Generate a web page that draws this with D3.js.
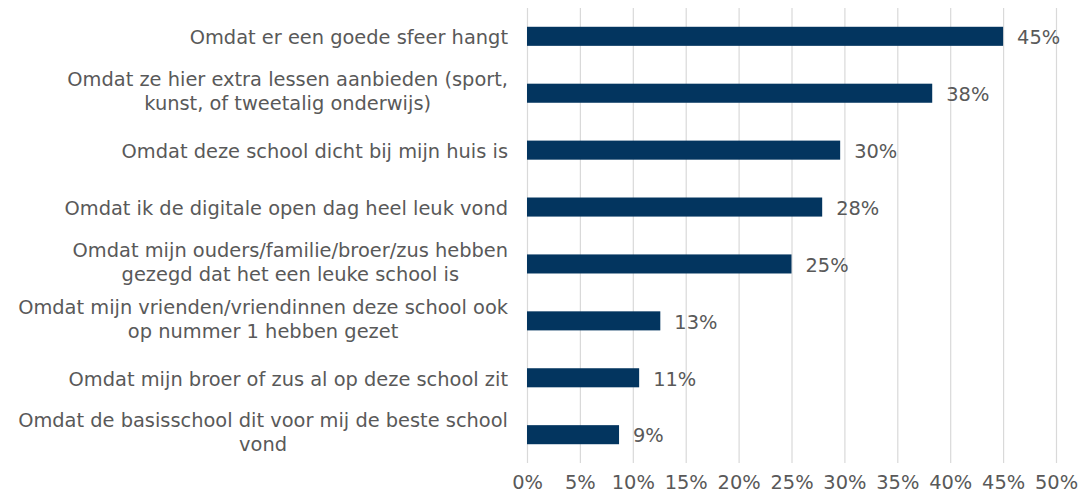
<!DOCTYPE html>
<html>
<head>
<meta charset="utf-8">
<script src="https://cdn.jsdelivr.net/npm/d3@7"></script>
<style>
  html, body { margin: 0; padding: 0; background: #fff; }
  svg { display: block; }
  text { font-family: "DejaVu Sans", Verdana, sans-serif; fill: #595959; }
</style>
</head>
<body>
<svg id="chart" width="1083" height="492"></svg>
<script>
const categories = [
  ["Omdat er een goede sfeer hangt"],
  ["Omdat ze hier extra lessen aanbieden (sport,", "kunst, of tweetalig onderwijs)"],
  ["Omdat deze school dicht bij mijn huis is"],
  ["Omdat ik de digitale open dag heel leuk vond"],
  ["Omdat mijn ouders/familie/broer/zus hebben", "gezegd dat het een leuke school is"],
  ["Omdat mijn vrienden/vriendinnen deze school ook", "op nummer 1 hebben gezet"],
  ["Omdat mijn broer of zus al op deze school zit"],
  ["Omdat de basisschool dit voor mij de beste school", "vond"]
];
const values = [45.0, 38.3, 29.6, 27.9, 25.0, 12.6, 10.6, 8.7];
const valueLabels = ["45%", "38%", "30%", "28%", "25%", "13%", "11%", "9%"];
const tickValues = [0, 5, 10, 15, 20, 25, 30, 35, 40, 45, 50];

(function () {
const svg = d3.select("#chart");
const pLeft = 527, pRight = 1056, pTop = 8, pBottom = 463;
const fontSize = 19.4;

const x = d3.scaleLinear().domain([0, 50]).range([pLeft, pRight]);
const y = d3.scaleBand().domain(d3.range(categories.length)).range([pTop, pBottom]).paddingInner(0.665).paddingOuter(0.33);

// gridlines
svg.append("g").selectAll("line").data(tickValues).join("line")
  .attr("x1", d => x(d) + 0.5).attr("x2", d => x(d) + 0.5)
  .attr("y1", pTop).attr("y2", pBottom)
  .attr("stroke", "#d9d9d9").attr("stroke-width", 1.2);

// x axis tick labels
const xAxis = d3.axisBottom(x).tickValues(tickValues).tickFormat(d => d + "%").tickSize(0).tickPadding(0);
const gx = svg.append("g").attr("transform", `translate(0, ${pBottom})`).call(xAxis);
gx.select(".domain").remove();
gx.attr("font-family", null).attr("font-size", null);
gx.selectAll("text").attr("font-size", fontSize).attr("fill", "#595959")
  .attr("dy", null).attr("y", 25.5);

// bars
svg.append("g").selectAll("rect").data(values).join("rect")
  .attr("x", x(0)).attr("y", (d, i) => y(i))
  .attr("width", d => x(d) - x(0)).attr("height", y.bandwidth())
  .attr("fill", "#03355f");

// value labels
svg.append("g").selectAll("text").data(values).join("text")
  .attr("x", d => x(d) + 14).attr("y", (d, i) => y(i) + y.bandwidth() / 2)
  .attr("dy", "0.4em").attr("font-size", fontSize)
  .text((d, i) => valueLabels[i]);

// category labels: block right-aligned, lines centered within block
const labelRight = 508, lineH = 24;
const gl = svg.append("g");
categories.forEach((lines, i) => {
  const cy = y(i) + y.bandwidth() / 2;
  const g = gl.append("g");
  const texts = lines.map((ln, j) => g.append("text")
    .attr("font-size", fontSize)
    .attr("y", cy + (j - (lines.length - 1) / 2) * lineH - (lines.length > 1 ? 3 : 0))
    .attr("dy", "0.4em")
    .attr("text-anchor", "middle")
    .text(ln));
  const maxW = d3.max(texts, t => t.node().getComputedTextLength());
  texts.forEach(t => t.attr("x", labelRight - maxW / 2));
});
})();
</script>
</body>
</html>
